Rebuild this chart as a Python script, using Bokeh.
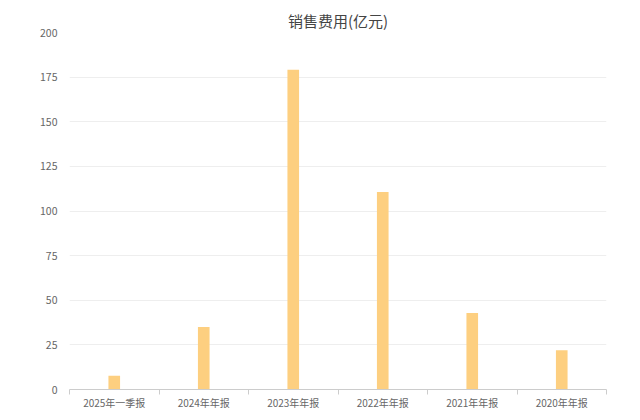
from bokeh.plotting import figure
from bokeh.models import Range1d, FixedTicker, Title
from bokeh.embed import file_html
from bokeh.resources import INLINE

categories = ["2025年一季报", "2024年年报", "2023年年报", "2022年年报", "2021年年报", "2020年年报"]
values = [7.7, 35.0, 179.1, 110.6, 42.9, 22.0]
y_ticks = [0, 25, 50, 75, 100, 125, 150, 175, 200]

FONT = "Noto Sans CJK SC"

xs = list(range(len(categories)))

p = figure(width=624, height=412, output_backend="svg", toolbar_location=None,
           x_range=Range1d(-0.5, len(categories) - 0.5), y_range=Range1d(0, 200),
           min_border_left=69, min_border_right=18, min_border_top=32, min_border_bottom=12)
p.outline_line_color = None
p.background_fill_color = "white"
p.border_fill_color = "white"

p.vbar(x=xs, top=values, width=0.13, bottom=0, fill_color="#FDCF80", line_color=None)

p.title = Title(text="销售费用(亿元)", align="center", text_font=FONT, text_font_size="15px",
                text_color="#444444", text_font_style="normal", offset=-8, standoff=4,
                text_line_height=0.9)

# x axis
p.xaxis.ticker = FixedTicker(ticks=xs, minor_ticks=[i - 0.5 for i in range(len(categories) + 1)])
p.xaxis.major_label_overrides = {i: c for i, c in enumerate(categories)}
p.xaxis.major_tick_line_color = None
p.xaxis.minor_tick_line_color = "#cccccc"
p.xaxis.minor_tick_out = 5
p.xaxis.minor_tick_in = 0
p.xaxis.major_tick_out = 0
p.xaxis.major_tick_in = 0
p.xaxis.axis_line_color = "#cccccc"
p.xaxis.major_label_text_font = FONT
p.xaxis.major_label_text_font_size = "10px"
p.xaxis.major_label_text_color = "#666666"
p.xaxis.major_label_text_line_height = 0.9
p.xaxis.major_label_standoff = 0
p.xgrid.grid_line_color = None

# y axis
p.yaxis.ticker = FixedTicker(ticks=y_ticks)
p.yaxis.axis_line_color = None
p.yaxis.major_tick_line_color = None
p.yaxis.major_tick_out = 0
p.yaxis.major_tick_in = 0
p.yaxis.minor_tick_line_color = None
p.yaxis.major_label_text_font = FONT
p.yaxis.major_label_text_font_size = "10.5px"
p.yaxis.major_label_text_color = "#666666"
p.yaxis.major_label_standoff = 12
p.ygrid.grid_line_color = "#eeeeee"
p.ygrid.ticker = FixedTicker(ticks=y_ticks[1:])

open("out.html", "w").write(file_html(p, INLINE))
